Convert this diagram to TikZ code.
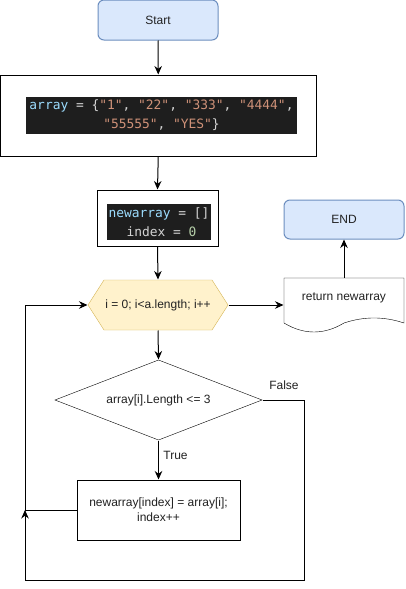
\documentclass[tikz,border=0pt]{standalone}
\usepackage{fontspec}
\setmainfont{Liberation Sans}
\newfontfamily\codefont{DejaVu Sans Mono}
\usetikzlibrary{arrows.meta,backgrounds,calc}
\definecolor{startfill}{HTML}{DAE8FC}
\definecolor{startdraw}{HTML}{6C8EBF}
\definecolor{hexfill}{HTML}{FFF2CC}
\definecolor{hexdraw}{HTML}{D6B656}
\definecolor{codebg}{HTML}{1E1E1E}
\definecolor{codeblue}{HTML}{9CDCFE}
\definecolor{codestr}{HTML}{CE9178}
\definecolor{codeplain}{HTML}{D4D4D4}
\definecolor{codenum}{HTML}{B5CEA8}
\definecolor{txt}{HTML}{222222}
\begin{document}
\begin{tikzpicture}[x=1pt,y=-1pt,line width=1pt,
  >={Stealth[length=8.5pt,width=7.5pt]},
  lbl/.style={font=\fontsize{12}{15}\selectfont, text=txt},
  term/.style={draw=startdraw, fill=startfill, rounded corners=6pt, minimum width=120pt, minimum height=40pt, inner sep=0pt, lbl},
  plainbox/.style={draw=black, fill=white, inner sep=0pt, lbl, align=center},
  ghost/.style={draw=none, inner sep=0pt, lbl, align=center},
  codebox/.style={fill=codebg, inner sep=0pt, font=\codefont\fontsize{12.9}{19}\selectfont, text=codeplain, align=center},
  flow/.style={draw=black, ->}]
\useasboundingbox (0,0) rectangle (405,589);

\node[term] (start) at (158,20) {Start};
\node[plainbox, minimum width=315.5pt, minimum height=81pt] (arr) at (158.25,115.5) {};
\node[codebox, minimum width=271pt, minimum height=37pt] (arrcode) at (161.5,115.5)
  {\textcolor{codeblue}{array} = \{\textcolor{codestr}{"1"}, \textcolor{codestr}{"22"}, \textcolor{codestr}{"333"}, \textcolor{codestr}{"4444"},\\
   \textcolor{codestr}{"55555"}, \textcolor{codestr}{"YES"}\}};
\node[plainbox, minimum width=121pt, minimum height=56pt] (nbox) at (157.5,218) {};
\node[codebox, minimum width=104pt, minimum height=36pt] (ncode) at (159,222)
  {\textcolor{codeblue}{newarray} = []\\\hspace*{5pt}index = \textcolor{codenum}{0}};
\node[ghost, minimum width=140pt, minimum height=50pt] (hex) at (158,305) {i = 0; i<a.length; i++};
\node[ghost, minimum width=207pt, minimum height=80pt] (dia) at (158.5,400) {array[i].Length <= 3};
\node[plainbox, minimum width=163pt, minimum height=60pt] (ubox) at (158.5,510) {newarray[index] = array[i];\\index++};
\node[term, minimum height=39pt] (endn) at (344,219.5) {END};
\node[ghost, minimum width=120pt, minimum height=40pt] (doc) at (344,298) {return newarray};
\node[lbl] (falseL) at (284,385) {False};
\node[lbl] (trueL) at (175.5,455) {True};

\coordinate (j) at (25,510);
\coordinate (c1) at (304,580);

\begin{scope}[on background layer]
  \fill[white] (0,0) rectangle (405,589);
  \filldraw[fill=hexfill, draw=hexdraw] (88,305) -- (104,280) -- (212,280) -- (228,305) -- (212,330) -- (104,330) -- cycle;
  \filldraw[fill=white, draw=black] (55,400) -- (158.5,360) -- (262,400) -- (158.5,440) -- cycle;
  \filldraw[fill=white, draw=black] (284,278) -- (404,278) -- (404,323)
     .. controls (384,316.3) and (364,316.3) .. (344,323)
     .. controls (324,335) and (304,335) .. (284,323) -- cycle;
\end{scope}

\draw[flow] (start.south) -- (arr.north);
\draw[flow] (arr.south) -- (nbox.north);
\draw[flow] (nbox.south) -- (hex.north);
\draw[flow] (hex.south) -- (dia.north);
\draw[flow] (dia.south) -- (ubox.north);
\draw[flow] (hex.east) -- (hex.east -| doc.west);
\draw[flow] (doc.north) -- (endn.south);
\draw[flow] (ubox.west) -- (j) |- (hex.west);
\draw[flow] (dia.east) -| (c1) -| (j);
\end{tikzpicture}
\end{document}
